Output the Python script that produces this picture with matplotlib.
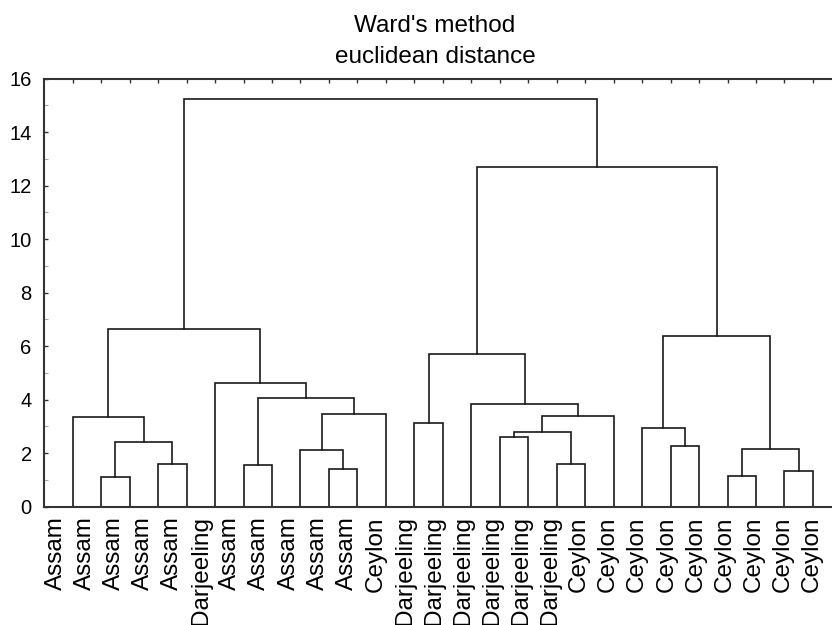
import matplotlib
matplotlib.use("Agg")
import matplotlib.pyplot as plt
import matplotlib.transforms as mtransforms
import numpy as np

plt.rcParams['font.family'] = ['Liberation Sans', 'DejaVu Sans']

# Leaf labels in dendrogram order
leaf_labels = (["Assam"] * 5 + ["Darjeeling"] + ["Assam"] * 5 + ["Ceylon"]
               + ["Darjeeling"] * 6 + ["Ceylon"] * 9)

# Merges: (left node id, right node id, linkage distance); leaves are 0..26
merge_left = [1, 3, 27, 0, 6, 9, 8, 33, 31, 5, 30,
              12, 15, 17, 39, 41, 14, 38,
              21, 20, 23, 25, 47, 46, 44, 37]
merge_right = [2, 4, 28, 29, 7, 10, 32, 11, 34, 35, 36,
               13, 16, 18, 40, 19, 42, 43,
               22, 45, 24, 26, 48, 49, 50, 51]
merge_height = [1.10, 1.60, 2.43, 3.35, 1.55, 1.40, 2.12, 3.45, 4.08, 4.61, 6.63,
                3.14, 2.62, 1.60, 2.78, 3.40, 3.83, 5.70,
                2.27, 2.94, 1.14, 1.35, 2.17, 6.37, 12.71, 15.25]

title_lines = ["Ward's method", "euclidean distance"]
y_ticks = [0, 2, 4, 6, 8, 10, 12, 14, 16]

W, H = 832, 625
fig = plt.figure(figsize=(W / 100, H / 100), dpi=100)
ax = fig.add_axes([44.2 / W, 118.3 / H, 797.2 / W, 428.0 / H])

n = len(leaf_labels)
leaf_pos = np.arange(1, n + 1, dtype=float)
pos = {i: leaf_pos[i] for i in range(n)}
hgt = {i: 0.0 for i in range(n)}

line_color = '#1a1a1a'
for k, (l, r, h) in enumerate(zip(merge_left, merge_right, merge_height)):
    xl, xr = pos[l], pos[r]
    ax.plot([xl, xl, xr, xr], [hgt[l], h, h, hgt[r]], color=line_color,
            lw=1.2, solid_joinstyle='miter', solid_capstyle='projecting')
    node = n + k
    pos[node] = (xl + xr) / 2
    hgt[node] = h

ax.set_xlim(0, n + 1)
ax.set_ylim(0, 16)

# Axes styling
for side in ['left', 'bottom', 'top']:
    ax.spines[side].set_linewidth(1.5)
    ax.spines[side].set_color('#333333')
ax.spines['right'].set_visible(False)

ax.set_yticks(y_ticks)
ax.set_yticklabels([str(v) for v in y_ticks], fontsize=14.5)
ax.set_yticks(np.arange(1, 16, 2), minor=True)
ax.tick_params(axis='y', which='major', direction='in', length=3, width=1,
               color='#333333', pad=9)
ax.tick_params(axis='y', which='minor', direction='in', length=3, width=0.8,
               color='#aaaaaa')

ax.set_xticks(leaf_pos)
ax.set_xticklabels(leaf_labels, rotation=90, fontsize=17.5, va='top', ha='center')
ax.tick_params(axis='x', which='both', bottom=False, top=True, direction='in',
               length=3, width=1, color='#333333', pad=7)

# Statistica-style slight drift of leaf labels relative to leaf positions
for i, lab in enumerate(ax.get_xticklabels()):
    dx = (-16.7 + 15.4 * i / (n - 1)) / 100.0
    lab.set_transform(lab.get_transform() +
                      mtransforms.ScaledTranslation(dx, 0, fig.dpi_scale_trans))

fig.text(435 / W, 1 - 31.7 / H, title_lines[0], ha='center', va='baseline', fontsize=17.5)
fig.text(435 / W, 1 - 63.2 / H, title_lines[1], ha='center', va='baseline', fontsize=17.5)

fig.savefig('out.png', dpi=100)
